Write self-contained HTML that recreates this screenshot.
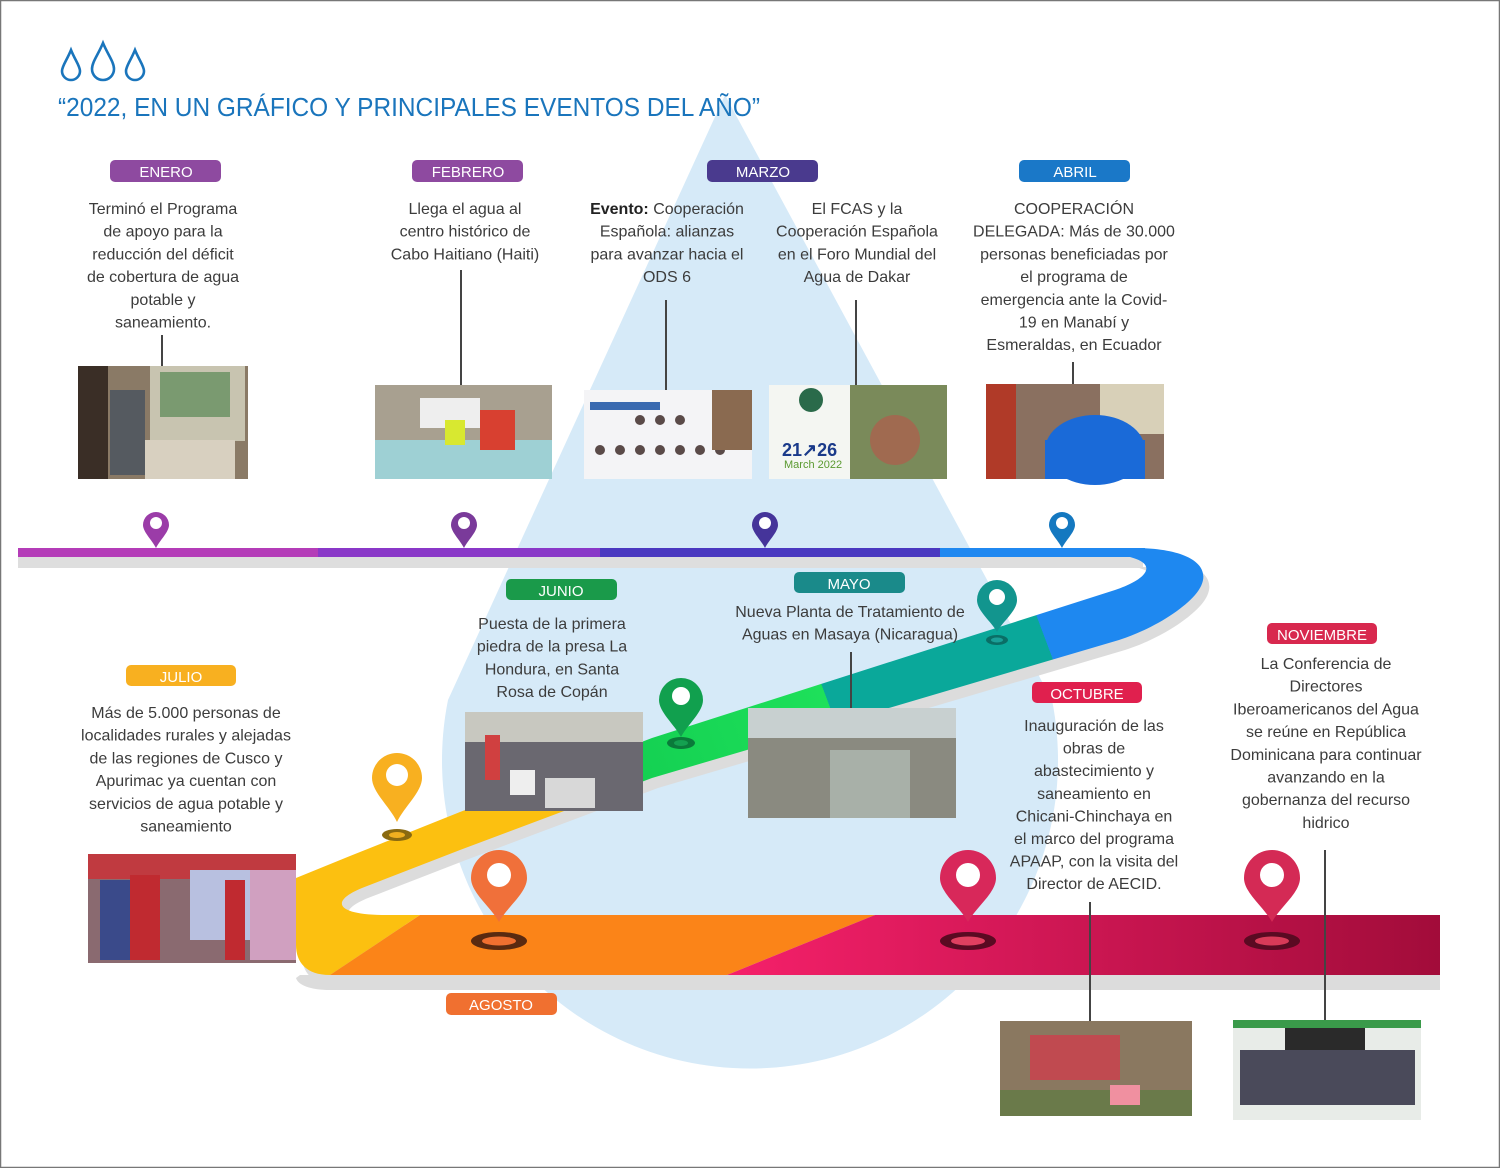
<!DOCTYPE html>
<html><head><meta charset="utf-8"><style>
html,body{margin:0;padding:0;background:#fff;}
svg{display:block;}
.t{font-family:"Liberation Sans",sans-serif;font-size:16px;fill:#3c3c3c;text-anchor:middle;}
.p{font-family:"Liberation Sans",sans-serif;font-size:15px;fill:#fff;text-anchor:middle;}
</style></head><body>
<svg width="1500" height="1168" viewBox="0 0 1500 1168" xmlns="http://www.w3.org/2000/svg">
<defs>
<linearGradient id="dg" gradientUnits="userSpaceOnUse" x1="1180" y1="570" x2="300" y2="900">
<stop offset="0" stop-color="#1e88f0"/><stop offset="0.16" stop-color="#1e88f0"/>
<stop offset="0.16" stop-color="#0aa89a"/><stop offset="0.40" stop-color="#0aa89a"/>
<stop offset="0.40" stop-color="#1ee05a"/><stop offset="0.62" stop-color="#14d052"/>
<stop offset="0.62" stop-color="#fcc010"/>
<stop offset="1" stop-color="#fcc010"/></linearGradient>
<linearGradient id="cg" x1="0" y1="0" x2="1" y2="0"><stop offset="0" stop-color="#f5206a"/><stop offset="1" stop-color="#a20c3a"/></linearGradient>
<path id="diag" d="M1140,548 C1200,550 1215,572 1195,595 C1180,612 1150,630 1119,640 L652,778 L460,850 L362,888 C328,902 338,915 385,915 L420,915 L330,975 C306,975 296,962 296,945 L296,878 L350,856 L460,812 L652,738 L1115,590 C1145,580 1160,565 1130,557 L1140,557 Z"/>
</defs>
<rect x="0.5" y="0.5" width="1499" height="1167" fill="#fff" stroke="#777" stroke-width="1.5"/>
<path d="M725,95 L448,700 A308,308 0 1 0 1052,700 Z" fill="#d6eaf8"/>
<g fill="none" stroke="#1a75bc" stroke-width="2.6">
<path d="M71,50 C67,60 62,66 62,71 A9,9 0 0 0 80,71 C80,66 75,60 71,50Z"/>
<path d="M103,43 C98,55 92,62 92,69 A11,11 0 0 0 114,69 C114,62 108,55 103,43Z"/>
<path d="M135,50 C131,60 126,66 126,71 A9,9 0 0 0 144,71 C144,66 139,60 135,50Z"/>
</g>
<text x="58" y="116" font-family="Liberation Sans,sans-serif" font-size="26" fill="#1a75bc" textLength="702" lengthAdjust="spacingAndGlyphs">“2022, EN UN GRÁFICO Y PRINCIPALES EVENTOS DEL AÑO”</text>

<rect x="18" y="557" width="1125" height="11" fill="#dedede"/>
<use href="#diag" transform="translate(6,10)" fill="#dcdcdc"/>
<rect x="18" y="548" width="300" height="9" fill="#b43cb8"/>
<rect x="318" y="548" width="282" height="9" fill="#8a38c8"/>
<rect x="600" y="548" width="340" height="9" fill="#4a38c0"/>
<rect x="940" y="548" width="205" height="9" fill="#2088f0"/>
<path d="M300,975 L1440,975 L1440,990 L330,990 C310,990 298,985 296,978Z" fill="#dcdcdc"/>
<use href="#diag" fill="url(#dg)"/>
<path d="M420,915 L875,915 L727,975 L330,975 Z" fill="#fb8418"/>
<path d="M875,915 L1440,915 L1440,975 L727,975 Z" fill="url(#cg)"/>

<g>
<path d="M156,548 C152,540 143,532 143,525 A13,13 0 1 1 169,525 C169,532 160,540 156,548Z" fill="#9b3ca8"/><circle cx="156" cy="523" r="6" fill="#fff"/>
<path d="M464,548 C460,540 451,532 451,525 A13,13 0 1 1 477,525 C477,532 468,540 464,548Z" fill="#7a3a9a"/><circle cx="464" cy="523" r="6" fill="#fff"/>
<path d="M765,548 C761,540 752,532 752,525 A13,13 0 1 1 778,525 C778,532 769,540 765,548Z" fill="#45349a"/><circle cx="765" cy="523" r="6" fill="#fff"/>
<path d="M1062,548 C1058,540 1049,532 1049,525 A13,13 0 1 1 1075,525 C1075,532 1066,540 1062,548Z" fill="#1478c0"/><circle cx="1062" cy="523" r="6" fill="#fff"/>
</g>
<ellipse cx="997" cy="640" rx="11" ry="5" fill="#0a6e66"/><ellipse cx="997" cy="640" rx="6" ry="2.5" fill="#1aa098"/>
<path d="M997,632 C991,621 977,611 977,600 A20,20 0 1 1 1017,600 C1017,611 1003,621 997,632Z" fill="#12958e"/><circle cx="997" cy="597" r="8" fill="#fff"/>
<ellipse cx="681" cy="743" rx="14" ry="6" fill="#0a7a3a"/><ellipse cx="681" cy="743" rx="7" ry="3" fill="#14a050"/>
<path d="M681,737 C674,724 659,712 659,700 A22,22 0 1 1 703,700 C703,712 688,724 681,737Z" fill="#11a04e"/><circle cx="681" cy="696" r="9" fill="#fff"/>
<ellipse cx="397" cy="835" rx="15" ry="6" fill="#8a6a10"/><ellipse cx="397" cy="835" rx="8" ry="3" fill="#f0b020"/>
<path d="M397,822 C390,807 372,792 372,778 A25,25 0 1 1 422,778 C422,792 404,807 397,822Z" fill="#f8b020"/><circle cx="397" cy="775" r="11" fill="#fff"/>
<ellipse cx="499" cy="941" rx="28" ry="9" fill="#5a2a10"/><ellipse cx="499" cy="941" rx="17" ry="4.5" fill="#f07030"/>
<path d="M499,922 C491,907 471,893 471,878 A28,28 0 1 1 527,878 C527,893 507,907 499,922Z" fill="#f0703a"/><circle cx="499" cy="875" r="12" fill="#fff"/>
<ellipse cx="968" cy="941" rx="28" ry="9" fill="#5a0a22"/><ellipse cx="968" cy="941" rx="17" ry="4.5" fill="#e04060"/>
<path d="M968,922 C960,907 940,893 940,878 A28,28 0 1 1 996,878 C996,893 976,907 968,922Z" fill="#d8285a"/><circle cx="968" cy="875" r="12" fill="#fff"/>
<ellipse cx="1272" cy="941" rx="28" ry="9" fill="#5a0a22"/><ellipse cx="1272" cy="941" rx="17" ry="4.5" fill="#d83a58"/>
<path d="M1272,922 C1264,907 1244,893 1244,878 A28,28 0 1 1 1300,878 C1300,893 1280,907 1272,922Z" fill="#d42a55"/><circle cx="1272" cy="875" r="12" fill="#fff"/>

<g stroke="#444" stroke-width="2">
<line x1="162" y1="335" x2="162" y2="366"/>
<line x1="461" y1="270" x2="461" y2="385"/>
<line x1="666" y1="300" x2="666" y2="390"/>
<line x1="856" y1="300" x2="856" y2="385"/>
<line x1="1073" y1="362" x2="1073" y2="384"/>
<line x1="851" y1="652" x2="851" y2="708"/>
<line x1="1090" y1="902" x2="1090" y2="1021"/>
<line x1="1325" y1="850" x2="1325" y2="1020"/>
</g>

<g>
<rect x="78" y="366" width="170" height="113" fill="#8a7a66"/>
<rect x="150" y="366" width="95" height="75" fill="#c8c4b0"/><rect x="160" y="372" width="70" height="45" fill="#7a9a70"/>
<rect x="78" y="366" width="30" height="113" fill="#3a2e26"/><rect x="110" y="390" width="35" height="85" fill="#555a60"/>
<rect x="145" y="440" width="90" height="39" fill="#d8d0c0"/>
<rect x="375" y="385" width="177" height="94" fill="#a8a090"/>
<rect x="375" y="440" width="177" height="39" fill="#9ed0d4"/><rect x="420" y="398" width="60" height="30" fill="#eee"/>
<rect x="445" y="420" width="20" height="25" fill="#d8e830"/><rect x="480" y="410" width="35" height="40" fill="#d84030"/>
<rect x="584" y="390" width="168" height="89" fill="#f4f4f6"/>
<rect x="590" y="402" width="70" height="8" fill="#3a6ab0"/>
<g fill="#5a4a48"><circle cx="640" cy="420" r="5"/><circle cx="660" cy="420" r="5"/><circle cx="680" cy="420" r="5"/><circle cx="600" cy="450" r="5"/><circle cx="620" cy="450" r="5"/><circle cx="640" cy="450" r="5"/><circle cx="660" cy="450" r="5"/><circle cx="680" cy="450" r="5"/><circle cx="700" cy="450" r="5"/><circle cx="720" cy="450" r="5"/></g>
<rect x="712" y="390" width="40" height="60" fill="#8a6a50"/>
<rect x="769" y="385" width="178" height="94" fill="#f4f6f2"/>
<rect x="850" y="385" width="97" height="94" fill="#7a8a5a"/><circle cx="895" cy="440" r="25" fill="#a06a50"/>
<circle cx="811" cy="400" r="12" fill="#2a6a4a"/>
<text x="782" y="456" font-family="Liberation Sans,sans-serif" font-weight="bold" font-size="18" fill="#1a3a8a">21↗26</text>
<text x="784" y="468" font-family="Liberation Sans,sans-serif" font-size="11" fill="#5a9a30">March 2022</text>
<rect x="986" y="384" width="178" height="95" fill="#8a7060"/>
<rect x="986" y="384" width="30" height="95" fill="#b03a28"/><rect x="1100" y="384" width="64" height="50" fill="#d8d0b8"/>
<ellipse cx="1095" cy="450" rx="50" ry="35" fill="#1a6ad8"/><rect x="1045" y="440" width="100" height="39" fill="#1a6ad8"/>
<rect x="465" y="712" width="178" height="99" fill="#6a6870"/>
<rect x="465" y="712" width="178" height="30" fill="#c8c8c0"/><rect x="485" y="735" width="15" height="45" fill="#d04040"/>
<rect x="545" y="778" width="50" height="30" fill="#d8d8d8"/><rect x="510" y="770" width="25" height="25" fill="#eee"/>
<rect x="748" y="708" width="208" height="110" fill="#8a8a80"/>
<rect x="748" y="708" width="208" height="30" fill="#c8d0d0"/><rect x="830" y="750" width="80" height="68" fill="#a8b0a8"/>
<rect x="88" y="854" width="208" height="109" fill="#8a6a70"/>
<rect x="88" y="854" width="208" height="25" fill="#c03a40"/><rect x="100" y="880" width="30" height="80" fill="#3a4a8a"/><rect x="130" y="875" width="30" height="85" fill="#c02a30"/>
<rect x="190" y="870" width="60" height="70" fill="#b8c0e0"/><rect x="225" y="880" width="20" height="80" fill="#c02a30"/><rect x="250" y="870" width="46" height="90" fill="#d0a0c0"/>
<rect x="1000" y="1021" width="192" height="95" fill="#8a7860"/>
<rect x="1000" y="1090" width="192" height="26" fill="#6a7a4a"/><rect x="1030" y="1035" width="90" height="45" fill="#c04a50"/><rect x="1110" y="1085" width="30" height="20" fill="#f090a0"/>
<rect x="1233" y="1020" width="188" height="100" fill="#e8ece8"/>
<rect x="1285" y="1020" width="80" height="50" fill="#2a2a2a"/><rect x="1240" y="1050" width="175" height="55" fill="#4a4a5a"/>
<rect x="1233" y="1020" width="188" height="8" fill="#3a9a4a"/>
</g>

<g>
<rect x="110" y="160" width="111" height="22" rx="5" fill="#8e4aa0"/><text class="p" x="166" y="177">ENERO</text>
<rect x="412" y="160" width="111" height="22" rx="5" fill="#8e4aa0"/><text class="p" x="468" y="177">FEBRERO</text>
<rect x="707" y="160" width="111" height="22" rx="5" fill="#4a3a8e"/><text class="p" x="763" y="177">MARZO</text>
<rect x="1019" y="160" width="111" height="22" rx="5" fill="#1a78c8"/><text class="p" x="1075" y="177">ABRIL</text>
<rect x="506" y="579" width="111" height="21" rx="5" fill="#1a9a4a"/><text class="p" x="561" y="596">JUNIO</text>
<rect x="794" y="572" width="111" height="21" rx="5" fill="#1a8a8a"/><text class="p" x="849" y="589">MAYO</text>
<rect x="126" y="665" width="110" height="21" rx="5" fill="#f8b020"/><text class="p" x="181" y="682">JULIO</text>
<rect x="1032" y="682" width="110" height="21" rx="5" fill="#e0204e"/><text class="p" x="1087" y="699">OCTUBRE</text>
<rect x="1267" y="623" width="110" height="21" rx="5" fill="#d8284e"/><text class="p" x="1322" y="640">NOVIEMBRE</text>
<rect x="446" y="993" width="111" height="22" rx="5" fill="#f07030"/><text class="p" x="501" y="1010">AGOSTO</text>
</g>

<text class="t" y="214"><tspan x="163">Terminó el Programa</tspan><tspan x="163" dy="22.7">de apoyo para la</tspan><tspan x="163" dy="22.7">reducción del déficit</tspan><tspan x="163" dy="22.7">de cobertura de agua</tspan><tspan x="163" dy="22.7">potable y</tspan><tspan x="163" dy="22.7">saneamiento.</tspan></text>
<text class="t" y="214"><tspan x="465">Llega el agua al</tspan><tspan x="465" dy="22.7">centro histórico de</tspan><tspan x="465" dy="22.7">Cabo Haitiano (Haiti)</tspan></text>
<text class="t" y="214"><tspan x="667"><tspan font-weight="bold" fill="#222">Evento:</tspan> Cooperación</tspan><tspan x="667" dy="22.7">Española: alianzas</tspan><tspan x="667" dy="22.7">para avanzar hacia el</tspan><tspan x="667" dy="22.7">ODS 6</tspan></text>
<text class="t" y="214"><tspan x="857">El FCAS y la</tspan><tspan x="857" dy="22.7">Cooperación Española</tspan><tspan x="857" dy="22.7">en el Foro Mundial del</tspan><tspan x="857" dy="22.7">Agua de Dakar</tspan></text>
<text class="t" y="214"><tspan x="1074">COOPERACIÓN</tspan><tspan x="1074" dy="22.7">DELEGADA: Más de 30.000</tspan><tspan x="1074" dy="22.7">personas beneficiadas por</tspan><tspan x="1074" dy="22.7">el programa de</tspan><tspan x="1074" dy="22.7">emergencia ante la Covid-</tspan><tspan x="1074" dy="22.7">19 en Manabí y</tspan><tspan x="1074" dy="22.7">Esmeraldas, en Ecuador</tspan></text>
<text class="t" y="629"><tspan x="552">Puesta de la primera</tspan><tspan x="552" dy="22.7">piedra de la presa La</tspan><tspan x="552" dy="22.7">Hondura, en Santa</tspan><tspan x="552" dy="22.7">Rosa de Copán</tspan></text>
<text class="t" y="617"><tspan x="850">Nueva Planta de Tratamiento de</tspan><tspan x="850" dy="22.7">Aguas en Masaya (Nicaragua)</tspan></text>
<text class="t" y="718"><tspan x="186">Más de 5.000 personas de</tspan><tspan x="186" dy="22.7">localidades rurales y alejadas</tspan><tspan x="186" dy="22.7">de las regiones de Cusco y</tspan><tspan x="186" dy="22.7">Apurimac ya cuentan con</tspan><tspan x="186" dy="22.7">servicios de agua potable y</tspan><tspan x="186" dy="22.7">saneamiento</tspan></text>
<text class="t" y="731"><tspan x="1094">Inauguración de las</tspan><tspan x="1094" dy="22.6">obras de</tspan><tspan x="1094" dy="22.6">abastecimiento y</tspan><tspan x="1094" dy="22.6">saneamiento en</tspan><tspan x="1094" dy="22.6">Chicani-Chinchaya en</tspan><tspan x="1094" dy="22.6">el marco del programa</tspan><tspan x="1094" dy="22.6">APAAP, con la visita del</tspan><tspan x="1094" dy="22.6">Director de AECID.</tspan></text>
<text class="t" y="669"><tspan x="1326">La Conferencia de</tspan><tspan x="1326" dy="22.7">Directores</tspan><tspan x="1326" dy="22.7">Iberoamericanos del Agua</tspan><tspan x="1326" dy="22.7">se reúne en República</tspan><tspan x="1326" dy="22.7">Dominicana para continuar</tspan><tspan x="1326" dy="22.7">avanzando en la</tspan><tspan x="1326" dy="22.7">gobernanza del recurso</tspan><tspan x="1326" dy="22.7">hidrico</tspan></text>
</svg>
</body></html>
